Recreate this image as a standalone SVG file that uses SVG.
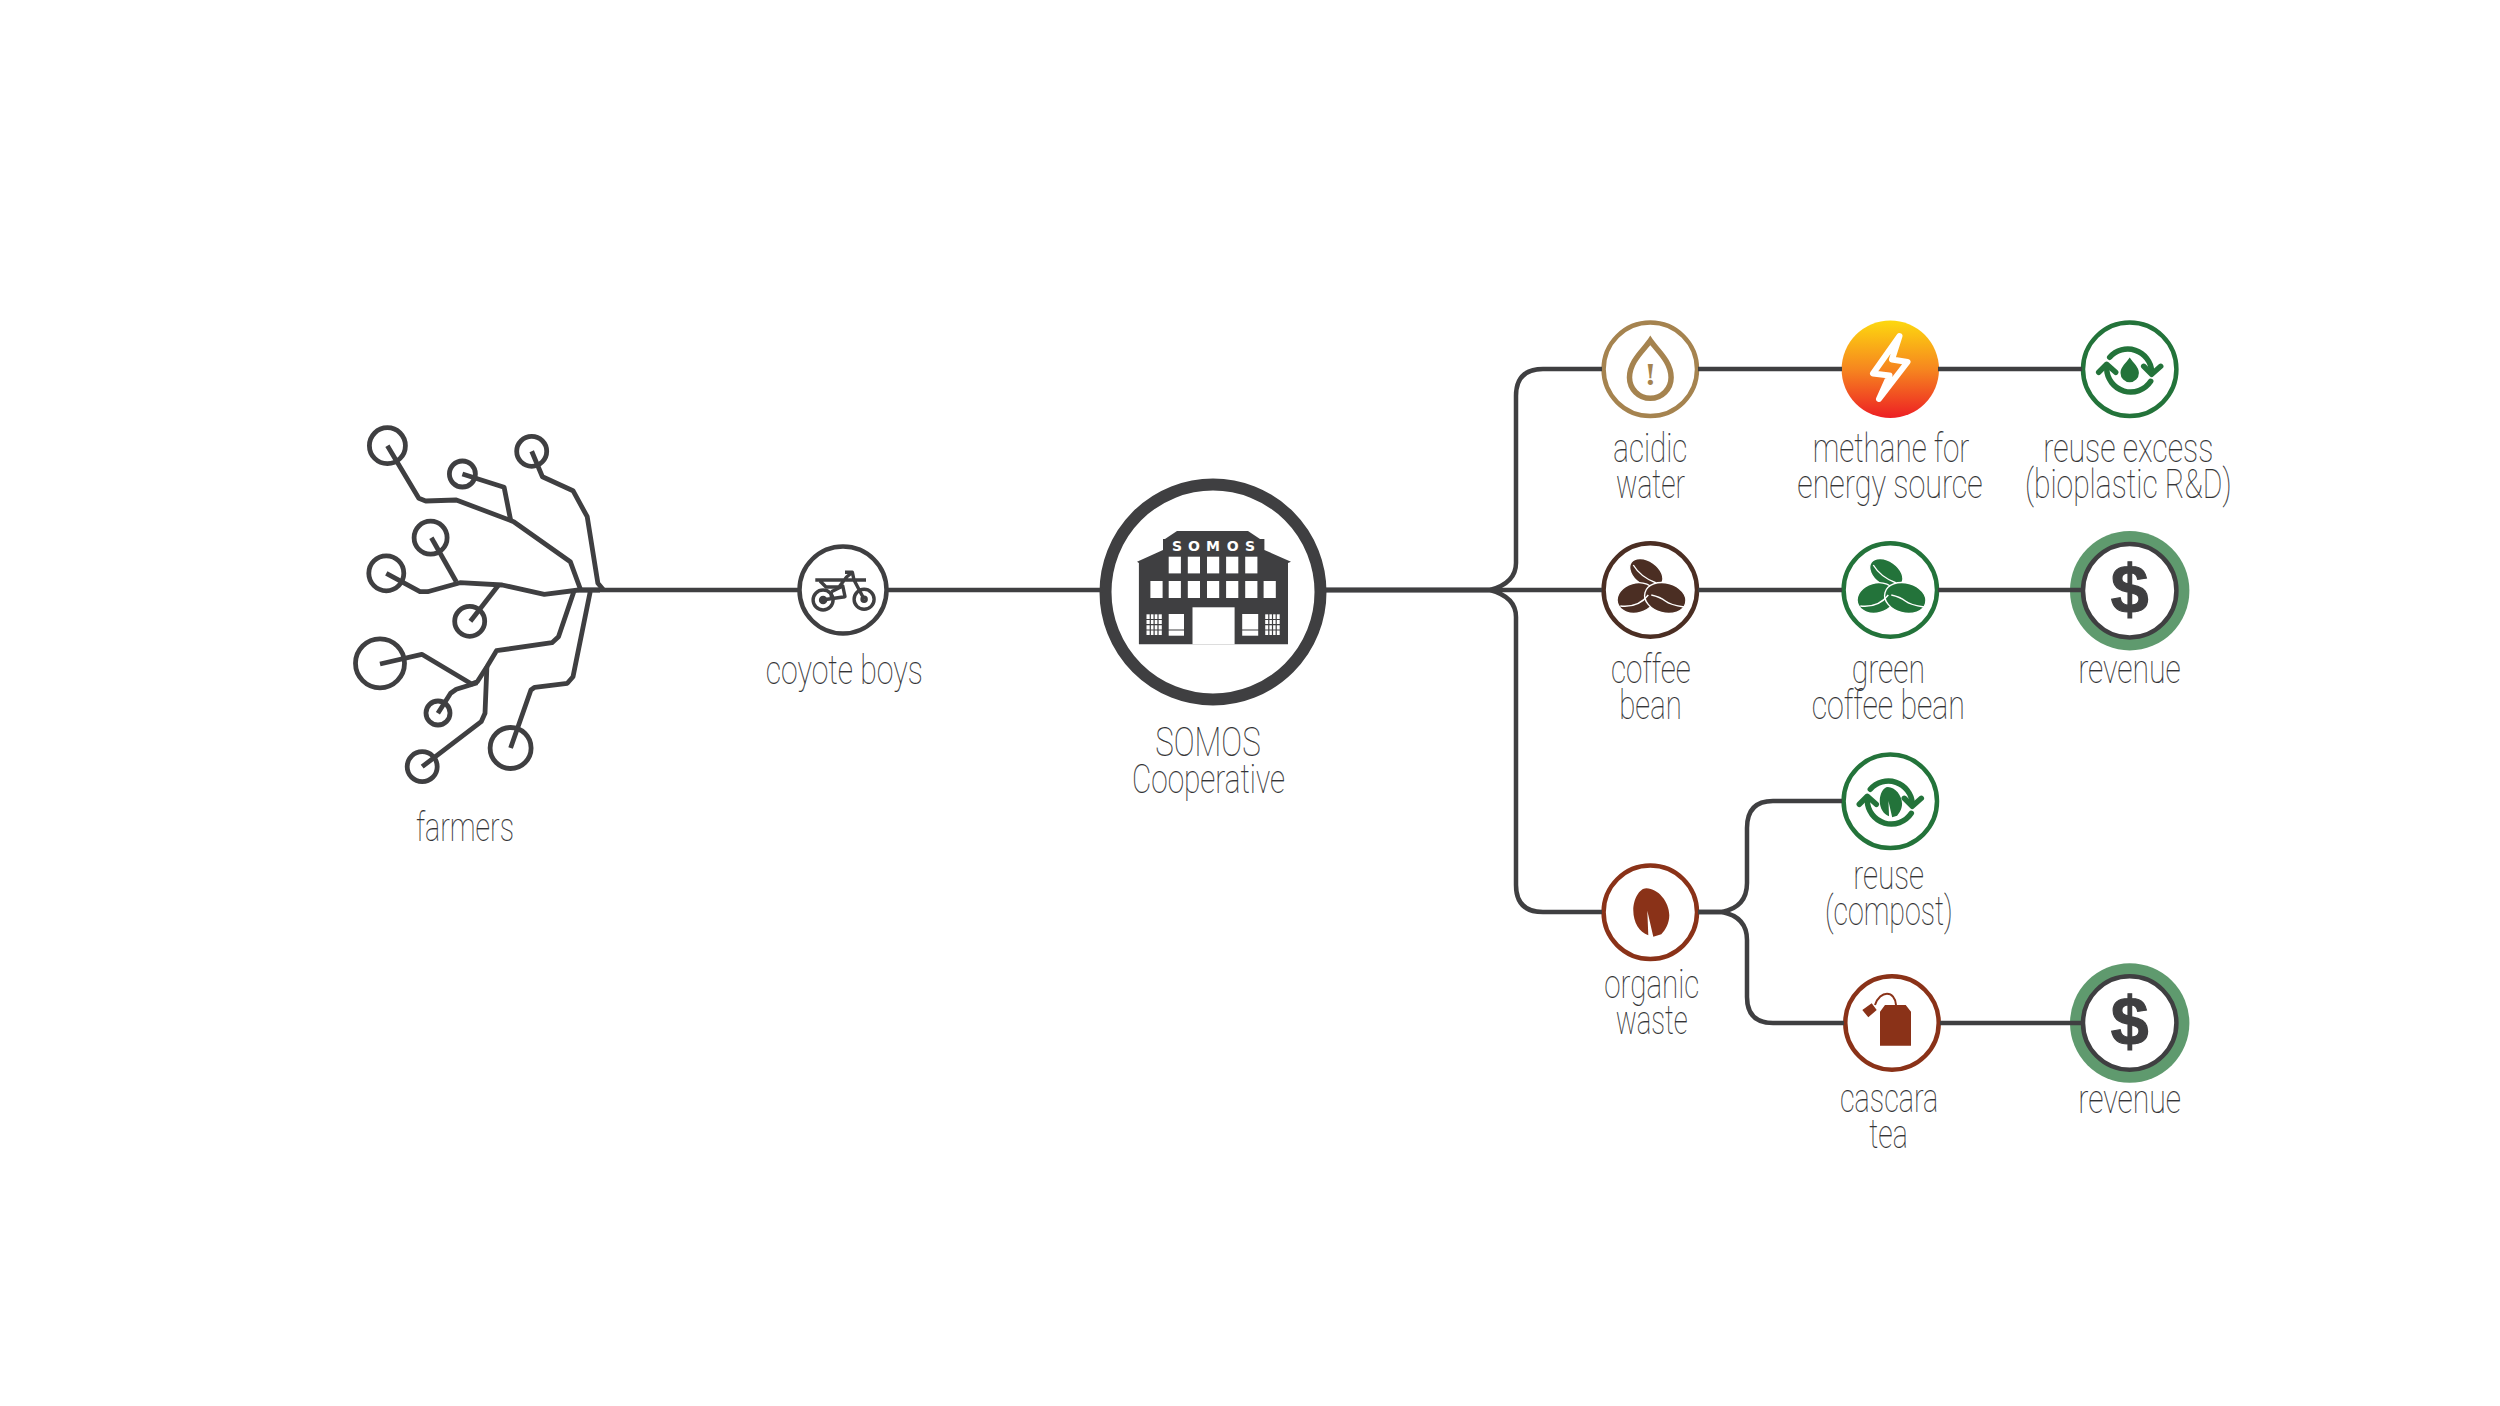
<svg xmlns="http://www.w3.org/2000/svg" width="2500" height="1406" viewBox="0 0 2500 1406">
<style>
.t{font-family:"Roboto","Liberation Sans",sans-serif;font-weight:100;font-size:40px;fill:#333335;stroke:#333335;stroke-width:.15px;transform:translateY(1px)}
.c{fill:none;stroke:#3f3f41;stroke-width:4.5;stroke-linecap:butt}
.f{fill:none;stroke:#3f3f41;stroke-width:4.8;stroke-linejoin:round;stroke-linecap:butt}
.n{fill:#fff;stroke-width:4.5}
.dk{fill:#3f3f41}.wh{fill:#fff}
.ring{fill:#5f9a6e}
.sym{font-family:"Liberation Sans",sans-serif;font-weight:700;fill:#3f3f41;stroke:#3f3f41;stroke-width:1.2}
</style>
<defs>
<linearGradient id="fire" x1="0" y1="0" x2="0" y2="1"><stop offset="0" stop-color="#fdd80f"/><stop offset=".5" stop-color="#f6861f"/><stop offset="1" stop-color="#ed1f24"/></linearGradient>
<g id="cycle" fill="none" stroke="currentColor" stroke-width="5.5" stroke-linecap="round" stroke-linejoin="round">
<path d="M-20 -12A24 24 0 0 1 22 2"/><path d="M14 -3L22 5L31 -3"/>
<path d="M21 12A24 24 0 0 1 -23 -1"/><path d="M-31 3L-23 -5L-14 3"/>
</g>
<path id="leaf" d="M-4-24C8-24 19-10 19 3C19 11 15 18 11 22L3 24.5L-3-1.5L-2 23C-11 20-17 10-17-2C-17-13-11-24-4-24Z"/>
<g id="beans" fill="currentColor" stroke="#fff" stroke-width="1.4">
<ellipse cx="-4" cy="-17" rx="18.5" ry="12" transform="rotate(35 -4 -17)"/>
<ellipse cx="-14" cy="8" rx="19.5" ry="15" transform="rotate(-15 -14 8)"/>
<ellipse cx="15" cy="8" rx="21" ry="15" transform="rotate(15 15 8)"/>
<path fill="none" d="M-17-25Q-10-13 6-7M1 5Q10 7 15 11T34 17M-30 16Q-12 18-2 5"/>
</g>
<g id="dollar"><text class="sym" x="0" y="22" font-size="68" text-anchor="middle">$</text></g>
</defs>
<rect width="2500" height="1406" fill="#fff"/>

<g id="farmers">
<circle class="f" cx="387.4" cy="445.7" r="18"/><circle class="f" cx="462.4" cy="474" r="13"/><circle class="f" cx="531.7" cy="451.3" r="15"/>
<circle class="f" cx="430.6" cy="537.7" r="16.5"/><circle class="f" cx="386.3" cy="573.3" r="17.5"/><circle class="f" cx="469.7" cy="621.3" r="15"/>
<circle class="f" cx="380" cy="663.3" r="24.5"/><circle class="f" cx="438" cy="713" r="12"/><circle class="f" cx="510.6" cy="748" r="20.5"/><circle class="f" cx="422.2" cy="766.7" r="15"/>
<path class="f" d="M387.4 445.7L418.8 498.3L425.7 501L456.3 500L513.7 521.7L570.3 561.7L580.7 590"/>
<path class="f" d="M462.4 474L504.1 487.3L510.6 520"/>
<path class="f" d="M531.7 451.3L542.4 476.7L573 490.7L587.2 516.7L597.9 583.3L603.6 590"/>
<path class="f" d="M431.4 537.7L456.3 581.7"/>
<path class="f" d="M386.3 573.3L420 591.7L427.6 591.7L460 582.7L502.2 585L544.3 594.3L578.8 590H600"/>
<path class="f" d="M470.4 621.3L499 584.5"/>
<path class="f" d="M380 664L421.8 654.3L471.6 684L477.3 681.7L486.9 666.7L496.5 650.7L552 642.7L558.5 636.7L573.8 591.7"/>
<path class="f" d="M437.9 713.3L450.6 693.3L456.3 689.3L477.3 682.7"/>
<path class="f" d="M422.2 766.7L481.2 721.7L485 713.3L486.9 666.7"/>
<path class="f" d="M510.6 748L530.9 690L534.7 687.3L567.3 683.3L573 676.7L590.2 591.7"/>
<text class="t" x="416" y="840" textLength="98" lengthAdjust="spacingAndGlyphs">farmers</text>
</g>

<g id="coyote-boys">
<circle class="n" cx="843" cy="590" r="43.5" stroke="#3f3f41"/>
<g fill="none" stroke="#3f3f41" stroke-width="3.4" stroke-linejoin="round">
<circle cx="823.1" cy="600" r="10"/><circle cx="864.1" cy="599.3" r="10"/>
<circle cx="823.1" cy="600" r="2.5" stroke-width="3.5"/><circle cx="864.1" cy="599.3" r="2" stroke-width="3.5"/>
<path d="M815.3 580H866M820 581L826 587H839L846.6 577L852.4 572.3H845M852.4 572.3L854 580L864 599"/>
<path d="M831.3 591.7L842.8 586L845 596.7L821.8 600M831.3 591.7V598"/>
</g>
<text class="t" x="765.7" y="683" textLength="157" lengthAdjust="spacingAndGlyphs">coyote boys</text>
</g>

<g id="somos-cooperative">
<circle class="n" cx="1213" cy="592" r="107.5" stroke="#3f3f41" style="stroke-width:12"/>
<path class="dk" d="M1177 531H1248L1260 539H1264.4V550L1291 561.7L1288 563V644.3H1138.9V563L1137 561.7L1163 550V539H1165Z"/>
<g class="wh">
<rect x="1168.7" y="556.7" width="12.2" height="16.7"/><rect x="1187.8" y="556.7" width="12.2" height="16.7"/><rect x="1207" y="556.7" width="12.2" height="16.7"/><rect x="1226.1" y="556.7" width="12.2" height="16.7"/><rect x="1245.2" y="556.7" width="12.2" height="16.7"/>
<rect x="1150.4" y="581" width="12.2" height="17"/><rect x="1168.7" y="581" width="12.2" height="17"/><rect x="1187.8" y="581" width="12.2" height="17"/><rect x="1207" y="581" width="12.2" height="17"/><rect x="1226.1" y="581" width="12.2" height="17"/><rect x="1245.2" y="581" width="12.2" height="17"/><rect x="1263.6" y="581" width="12.2" height="17"/>
<rect x="1192.5" y="607.3" width="42.1" height="37"/>
<rect x="1168.7" y="614" width="15.3" height="21.7"/><rect x="1242.2" y="614" width="16" height="21.7"/>
<rect x="1146.5" y="614.3" width="15.3" height="20.7"/><rect x="1265.2" y="614.3" width="14.5" height="20.7"/>
</g>
<path d="M1168 630H1185M1241 630H1259M1146 619.5H1162M1146 624.7H1162M1146 630H1162M1150.3 614V635M1154.1 614V635M1158 614V635M1265 619.5H1280M1265 624.7H1280M1265 630H1280M1268.8 614V635M1272.5 614V635M1276.2 614V635" stroke="#3f3f41" stroke-width="1.2" fill="none"/>
<text x="1177 1194 1213 1232.6 1250" y="551" font-family="DejaVu Sans, sans-serif" font-weight="700" font-size="14" fill="#fff" text-anchor="middle">SOMOS</text>
<text class="t" x="1155.3" y="755" textLength="105.3" lengthAdjust="spacingAndGlyphs">SOMOS</text>
<text class="t" x="1132" y="791.7" textLength="153" lengthAdjust="spacingAndGlyphs">Cooperative</text>
</g>

<g id="acidic-water">
<circle class="n" cx="1650.3" cy="369.3" r="46.7" stroke="#a5834f"/>
<path d="M1650.3 340.5C1644 350 1629.5 361 1629.5 377.5A20.8 20.8 0 0 0 1671.1 377.5C1671.1 361 1656.6 350 1650.3 340.5Z" fill="none" stroke="#a5834f" stroke-width="5.5"/>
<text x="1650.3" y="385" font-family="DejaVu Serif, serif" font-weight="700" font-size="28" fill="#a5834f" text-anchor="middle">!</text>
<text class="t" x="1613.3" y="460.7" textLength="74" lengthAdjust="spacingAndGlyphs">acidic</text>
<text class="t" x="1616" y="496.7" textLength="69" lengthAdjust="spacingAndGlyphs">water</text>
</g>

<g id="methane">
<circle cx="1890.3" cy="369.3" r="48.7" fill="url(#fire)"/>
<path d="M1899.5 336L1873 373.5L1889.5 375.5L1879 399L1907.5 362L1892 359.5Z" fill="none" stroke="#fff" stroke-width="6" stroke-linejoin="round"/>
<text class="t" x="1812.7" y="460.7" textLength="156.6" lengthAdjust="spacingAndGlyphs">methane for</text>
<text class="t" x="1797.3" y="496.7" textLength="185.4" lengthAdjust="spacingAndGlyphs">energy source</text>
</g>

<g id="reuse-excess" color="#23733a">
<circle class="n" cx="2129.7" cy="369.3" r="46.7" stroke="#23733a"/>
<use href="#cycle" x="2129.7" y="369.3"/>
<path d="M2129.7 357.5C2126 363 2120.5 367 2120.5 373A9.2 9.2 0 0 0 2138.9 373C2138.9 367 2133.4 363 2129.7 357.5Z" fill="#23733a"/>
<text class="t" x="2043.3" y="460.7" textLength="170" lengthAdjust="spacingAndGlyphs">reuse excess</text>
<text class="t" x="2025" y="496.7" textLength="206.7" lengthAdjust="spacingAndGlyphs">(bioplastic R&amp;D)</text>
</g>

<g id="coffee-bean" color="#4b2e23">
<circle class="n" cx="1650.3" cy="590" r="46.7" stroke="#4b2e23"/>
<use href="#beans" x="1650.3" y="590"/>
<text class="t" x="1611" y="682.3" textLength="79.7" lengthAdjust="spacingAndGlyphs">coffee</text>
<text class="t" x="1619.3" y="718.3" textLength="62.4" lengthAdjust="spacingAndGlyphs">bean</text>
</g>

<g id="green-coffee-bean" color="#23733a">
<circle class="n" cx="1890.3" cy="590" r="46.7" stroke="#23733a"/>
<use href="#beans" x="1890.3" y="590"/>
<text class="t" x="1851.7" y="682.3" textLength="73.3" lengthAdjust="spacingAndGlyphs">green</text>
<text class="t" x="1811.7" y="718.3" textLength="153.3" lengthAdjust="spacingAndGlyphs">coffee bean</text>
</g>

<g id="revenue-1">
<circle class="ring" cx="2129.7" cy="590.7" r="59.7"/>
<circle class="n" cx="2129.7" cy="590.7" r="46.7" stroke="#3f3f41"/>
<use href="#dollar" x="2129.7" y="590.7"/>
<text class="t" x="2078.3" y="681.7" textLength="102.4" lengthAdjust="spacingAndGlyphs">revenue</text>
</g>

<g id="organic-waste">
<circle class="n" cx="1650.3" cy="912.3" r="46.7" stroke="#8a3218"/>
<use href="#leaf" x="1650.3" y="912.3" fill="#8a3218"/>
<text class="t" x="1604.3" y="996.7" textLength="95" lengthAdjust="spacingAndGlyphs">organic</text>
<text class="t" x="1615.7" y="1032.7" textLength="72" lengthAdjust="spacingAndGlyphs">waste</text>
</g>

<g id="reuse-compost" color="#23733a">
<circle class="n" cx="1890.3" cy="801.3" r="46.7" stroke="#23733a"/>
<use href="#cycle" x="1890.3" y="801.3"/>
<use href="#leaf" transform="translate(1890.3 802) scale(.62)" fill="#23733a"/>
<text class="t" x="1853.3" y="888.3" textLength="70.7" lengthAdjust="spacingAndGlyphs">reuse</text>
<text class="t" x="1825" y="924.3" textLength="127.7" lengthAdjust="spacingAndGlyphs">(compost)</text>
</g>

<g id="cascara-tea">
<circle class="n" cx="1892" cy="1023" r="46.7" stroke="#8a3218"/>
<path d="M1885 1005H1905.7L1911 1011.7V1045.7H1880V1011.7Z M1862.3 1010L1871.7 1003.3L1876.7 1010L1868.3 1017.3Z" fill="#8a3218"/>
<path d="M1875 1005C1880 990 1895 990 1896 1005" fill="none" stroke="#8a3218" stroke-width="2"/>
<text class="t" x="1840" y="1111" textLength="98.3" lengthAdjust="spacingAndGlyphs">cascara</text>
<text class="t" x="1869.3" y="1146.7" textLength="38.4" lengthAdjust="spacingAndGlyphs">tea</text>
</g>

<g id="revenue-2">
<circle class="ring" cx="2129.7" cy="1023" r="59.7"/>
<circle class="n" cx="2129.7" cy="1023" r="46.7" stroke="#3f3f41"/>
<use href="#dollar" x="2129.7" y="1023"/>
<text class="t" x="2078.3" y="1111.7" textLength="102.7" lengthAdjust="spacingAndGlyphs">revenue</text>
</g>

<g id="connectors">
<path class="c" d="M578 590H798"/>
<path class="c" d="M888 590H1103"/>
<path class="c" d="M1325 590H1490Q1516 583 1516 563V396Q1516 369 1543 369H1602"/>
<path class="c" d="M1325 590H1602"/>
<path class="c" d="M1325 590H1490Q1516 597 1516 617V885Q1516 912 1543 912H1602"/>
<path class="c" d="M1698 369H1842"/>
<path class="c" d="M1938 369H2082"/>
<path class="c" d="M1698 590H1842"/>
<path class="c" d="M1938 590H2082"/>
<path class="c" d="M1698 912H1722Q1747 907 1747 883V828Q1747 801 1773 801H1842"/>
<path class="c" d="M1698 912H1722Q1747 917 1747 940V997Q1747 1023 1773 1023H1844"/>
<path class="c" d="M1940 1023H2082"/>
</g>
</svg>
